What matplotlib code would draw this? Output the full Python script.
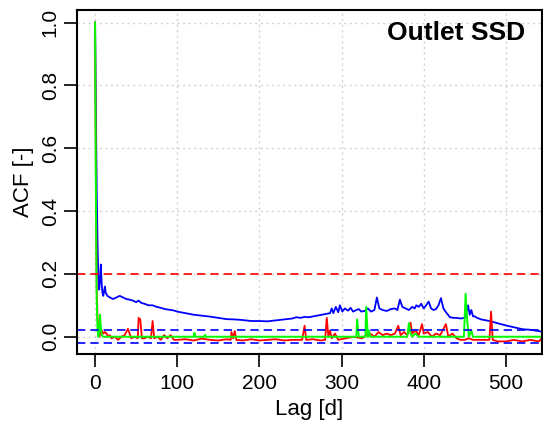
import numpy as np
import matplotlib
matplotlib.use("Agg")
from matplotlib import pyplot as plt

plt.rcParams['font.family'] = ['Liberation Sans', 'DejaVu Sans']

# ACF series (lag in days, value)
blue_lag = [0, 1, 2, 3, 4, 5, 6, 7, 8, 9, 10, 12, 13, 15, 18, 22, 26, 30, 34, 38,
            42, 46, 50, 53, 56, 60, 65, 70, 75, 80, 85, 90, 95, 100, 110, 120, 130,
            140, 150, 160, 170, 180, 190, 200, 210, 220, 230, 240, 245, 250, 255,
            260, 270, 280, 286, 288, 290, 293, 296, 298, 301, 304, 308, 311, 314,
            318, 321, 324, 328, 332, 336, 340, 343, 346, 350, 355, 360, 365, 368,
            371, 374, 378, 382, 386, 389, 391, 394, 397, 400, 403, 406, 409, 412,
            415, 418, 421, 424, 428, 432, 436, 440, 445, 450, 452, 454, 456, 458,
            460, 462, 465, 470, 480, 490, 500, 510, 520, 530, 540, 544]
blue_acf = [1.0, 0.72, 0.46, 0.30, 0.19, 0.15, 0.18, 0.23, 0.17, 0.14, 0.13, 0.16,
            0.14, 0.13, 0.125, 0.12, 0.125, 0.13, 0.125, 0.12, 0.118, 0.115, 0.11,
            0.115, 0.108, 0.105, 0.10, 0.10, 0.095, 0.092, 0.088, 0.086, 0.084,
            0.08, 0.075, 0.07, 0.067, 0.064, 0.06, 0.056, 0.055, 0.053, 0.05, 0.05,
            0.049, 0.052, 0.055, 0.058, 0.062, 0.06, 0.063, 0.062, 0.067, 0.072,
            0.075, 0.09, 0.075, 0.095, 0.078, 0.10, 0.08, 0.09, 0.083, 0.092, 0.08,
            0.085, 0.088, 0.08, 0.082, 0.09, 0.08, 0.085, 0.125, 0.09, 0.085, 0.082,
            0.088, 0.09, 0.085, 0.118, 0.095, 0.09, 0.085, 0.095, 0.09, 0.10, 0.095,
            0.105, 0.09, 0.10, 0.112, 0.09, 0.085, 0.088, 0.10, 0.123, 0.09, 0.075,
            0.062, 0.06, 0.06, 0.058, 0.06, 0.08, 0.10, 0.07, 0.085, 0.065, 0.065,
            0.06, 0.055, 0.05, 0.043, 0.036, 0.03, 0.024, 0.022, 0.018, 0.016]

red_lag = [0, 1, 2, 3, 4, 5, 6, 8, 10, 12, 14, 16, 18, 20, 24, 28, 32, 36, 40, 42,
           44, 48, 52, 53, 55, 57, 60, 64, 68, 70, 72, 76, 80, 84, 88, 92, 96, 100,
           110, 120, 130, 140, 150, 160, 165, 166, 168, 170, 172, 180, 190, 200,
           210, 220, 230, 240, 252, 255, 257, 265, 275, 280, 282, 284, 286, 288,
           292, 296, 305, 315, 325, 330, 335, 340, 345, 350, 355, 360, 365, 369,
           372, 376, 380, 384, 386, 390, 394, 398, 400, 405, 410, 415, 420, 425,
           427, 430, 435, 440, 445, 450, 455, 460, 470, 480, 482, 484, 490, 500,
           510, 520, 530, 540, 544]
red_acf = [1.0, 0.5, 0.15, 0.06, 0.02, 0.0, 0.005, 0.02, 0.01, 0.015, 0.01, 0.0,
           0.005, -0.005, 0.0, -0.01, 0.0, 0.005, 0.025, 0.01, -0.005, 0.0, -0.005,
           0.06, 0.055, -0.005, -0.005, 0.0, -0.005, 0.05, -0.005, 0.0, -0.01,
           0.005, -0.005, 0.005, -0.01, -0.01, -0.008, -0.012, -0.006, -0.01,
           -0.012, -0.008, -0.01, 0.015, -0.005, 0.018, -0.01, -0.012, -0.008,
           -0.012, -0.01, -0.008, -0.012, -0.01, -0.01, 0.035, -0.01, -0.008,
           -0.012, -0.01, 0.06, 0.0, 0.02, -0.005, 0.01, -0.01, -0.005, 0.0,
           -0.005, 0.005, 0.01, 0.0, 0.015, 0.005, 0.01, 0.005, 0.01, 0.035, 0.005,
           0.015, 0.005, 0.045, 0.01, 0.02, 0.005, 0.04, 0.01, 0.015, 0.0, 0.01,
           0.005, 0.03, 0.04, 0.0, 0.01, -0.005, -0.01, -0.01, -0.005, -0.01,
           -0.01, -0.01, 0.08, -0.01, -0.015, -0.015, -0.01, -0.015, -0.01,
           -0.015, -0.005]

green_lag = [0, 1, 2, 3, 4, 5, 6, 7, 8, 10, 120, 121, 122, 133, 134, 135, 318,
             319, 321, 329, 330, 332, 333, 335, 380, 382, 384, 386, 390, 394, 449,
             451, 453, 455, 458, 460, 544]
green_acf = [1.0, 0.45, 0.12, 0.02, 0.0, 0.02, 0.07, 0.03, 0.005, 0.0, 0.0, 0.012,
             0.0, 0.0, 0.006, 0.0, 0.0, 0.055, 0.0, 0.0, 0.095, 0.0, 0.02, 0.0,
             0.0, 0.043, 0.01, 0.0, 0.01, 0.0, 0.0, 0.137, 0.05, 0.0, 0.02, 0.0,
             0.0]

red_level = 0.2
blue_band = 0.02

fig = plt.figure(figsize=(5.43, 4.29), dpi=100)
ax = fig.add_axes([77/543, 75/429, 465/543, 344/429])

ax.set_xlim(-22, 544)
ax.set_ylim(-0.055, 1.04)

ax.set_xticks([0, 100, 200, 300, 400, 500])
ax.set_yticks([0.0, 0.2, 0.4, 0.6, 0.8, 1.0])
ax.set_yticklabels(['0.0', '0.2', '0.4', '0.6', '0.8', '1.0'])
ax.grid(True, color='#D3D3D3', linestyle=(0, (1.5, 2.5)), linewidth=1.0)
ax.set_axisbelow(True)

ax.plot(blue_lag, blue_acf, color='#0000FF', lw=1.3)
ax.plot(red_lag, red_acf, color='#FF0000', lw=1.3)
ax.plot(green_lag, green_acf, color='#00FF00', lw=1.4)

ax.axhline(red_level, color='#FF0000', lw=1.2, dashes=(5, 3))
ax.axhline(blue_band, color='#0000FF', lw=1.2, dashes=(5, 3))
ax.axhline(-blue_band, color='#0000FF', lw=1.2, dashes=(5, 3))

for s in ax.spines.values():
    s.set_linewidth(1.5)
ax.tick_params(axis='both', length=9.5, width=1.2, labelsize=15, direction='out')
ax.tick_params(axis='x', pad=5)
ax.tick_params(axis='y', pad=3, labelrotation=90)
for lab in ax.get_yticklabels():
    lab.set_va('center')

fig.text(309/543, 1 - 410/429, 'Lag [d]', ha='center', va='center', fontsize=16)
fig.text(24/543, 1 - 182/429, 'ACF [-]', ha='center', va='center', fontsize=16,
         rotation=90)
ax.text(0.963, 0.968, 'Outlet SSD', transform=ax.transAxes, ha='right', va='top',
        fontsize=19, fontweight='bold')

fig.savefig('out.png', dpi=100)
